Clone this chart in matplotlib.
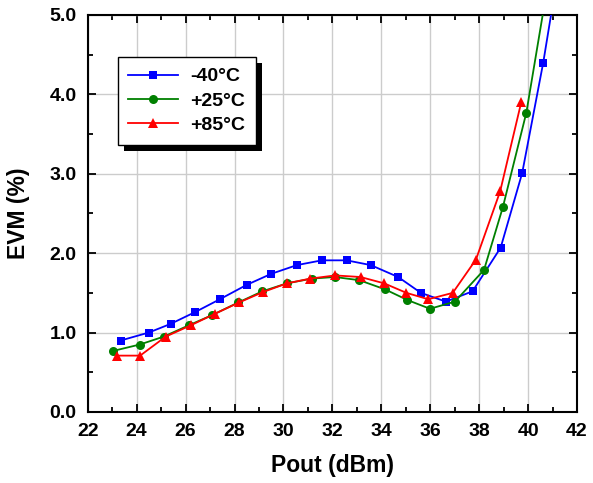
import matplotlib
matplotlib.use("Agg")
import matplotlib.pyplot as plt
from matplotlib.patches import Rectangle
from matplotlib.ticker import MultipleLocator, FormatStrFormatter

plt.rcParams["font.family"] = ["Liberation Sans", "DejaVu Sans"]
plt.rcParams["font.weight"] = "bold"

# -------- Data --------
labels = ["-40°C", "+25°C", "+85°C"]

pout_m40 = [23.34, 24.49, 25.39, 26.40, 27.40, 28.49, 29.50, 30.55, 31.57, 32.58,
            33.57, 34.69, 35.62, 36.64, 37.73, 38.88, 39.76, 40.62, 41.55]
evm_m40 = [0.90, 1.00, 1.11, 1.26, 1.42, 1.60, 1.74, 1.85, 1.91, 1.91,
           1.85, 1.70, 1.50, 1.39, 1.52, 2.07, 3.01, 4.40, 6.15]

pout_p25 = [23.05, 24.13, 25.11, 26.12, 27.08, 28.16, 29.14, 30.14, 31.16, 32.10,
            33.10, 34.15, 35.07, 35.99, 37.01, 38.20, 38.97, 39.93, 40.95]
evm_p25 = [0.77, 0.85, 0.95, 1.09, 1.22, 1.38, 1.52, 1.62, 1.68, 1.70,
           1.66, 1.545, 1.41, 1.30, 1.39, 1.79, 2.58, 3.77, 5.65]

pout_p85 = [23.19, 24.14, 25.19, 26.20, 27.22, 28.19, 29.16, 30.14, 31.10, 32.11,
            33.15, 34.12, 35.03, 35.92, 36.92, 37.87, 38.86, 39.72]
evm_p85 = [0.71, 0.71, 0.95, 1.09, 1.24, 1.38, 1.51, 1.62, 1.68, 1.72,
           1.70, 1.62, 1.50, 1.42, 1.50, 1.92, 2.78, 3.90]

colors = ["#0000ff", "#008000", "#ff0000"]
markers = ["s", "o", "^"]
msizes = [6, 6.5, 7.5]

fig = plt.figure(figsize=(5.93, 4.83), dpi=100)
ax = fig.add_axes([0.148, 0.147, 0.825, 0.822])

series = [(pout_m40, evm_m40), (pout_p25, evm_p25), (pout_p85, evm_p85)]
for (x, y), lab, c, m, ms in zip(series, labels, colors, markers, msizes):
    ax.plot(x, y, color=c, marker=m, markersize=ms, linewidth=1.3, label=lab,
            markeredgewidth=0, zorder=3)

ax.set_xlim(22, 42)
ax.set_ylim(0, 5)
ax.xaxis.set_major_locator(MultipleLocator(2))
ax.xaxis.set_minor_locator(MultipleLocator(1))
ax.yaxis.set_major_locator(MultipleLocator(1))
ax.yaxis.set_minor_locator(MultipleLocator(0.5))
ax.yaxis.set_major_formatter(FormatStrFormatter("%.1f"))
ax.grid(True, which="major", color="#cccccc", linewidth=1.0, zorder=0)
ax.tick_params(which="both", direction="in", top=True, right=True, width=1.3)
ax.tick_params(which="major", length=6, labelsize=14, pad=8)
ax.tick_params(which="minor", length=3.5)
for sp in ax.spines.values():
    sp.set_linewidth(1.5)
for t in ax.get_xticklabels() + ax.get_yticklabels():
    t.set_fontweight("bold")

ax.set_xlabel("Pout (dBm)", fontsize=16.5, fontweight="bold", labelpad=10)
ax.set_ylabel("EVM (%)", fontsize=16.5, fontweight="bold", labelpad=14)

leg = ax.legend(loc="upper left", bbox_to_anchor=(0.061, 0.894), borderaxespad=0,
                fancybox=False, edgecolor="black", framealpha=1,
                handlelength=2.55, handletextpad=0.65, borderpad=0.55,
                labelspacing=0.35, prop={"weight": "bold", "size": 14})
leg.get_frame().set_linewidth(1.0)
leg.set_zorder(10)

# legend drop shadow
fig.canvas.draw()
bb = leg.get_window_extent().transformed(fig.transFigure.inverted())
dx, dy = 6 / 593, 6 / 483
shadow = Rectangle((bb.x0 + dx, bb.y0 - dy), bb.width, bb.height,
                   transform=fig.transFigure, facecolor="black", edgecolor="none",
                   zorder=9)
ax.add_artist(shadow)
shadow.set_clip_on(False)

fig.savefig("out.png", dpi=100)
